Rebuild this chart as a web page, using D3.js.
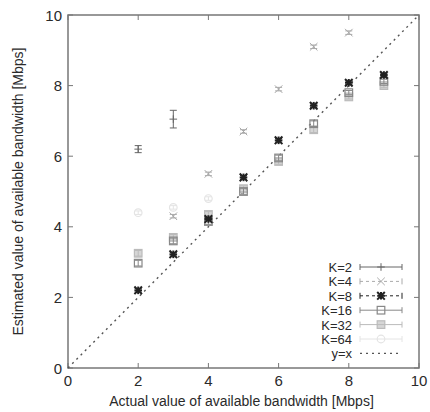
<!DOCTYPE html>
<html>
<head>
<meta charset="utf-8">
<script src="https://cdn.jsdelivr.net/npm/d3@7"></script>
<style>
  body { margin: 0; background: #fff; }
  svg { font-family: "Liberation Sans", Arial, sans-serif; }
</style>
</head>
<body>
<svg id="chart" width="430" height="412"></svg>
<script>
// series data
var xK2 = [2, 3];
var yK2 = [6.2, 7.05];
var eK2 = [0.1, 0.25];

var xK4 = [3, 4, 5, 6, 7, 8];
var yK4 = [4.3, 5.5, 6.7, 7.9, 9.1, 9.5];
var eK4 = [0.05, 0.05, 0.05, 0.05, 0.05, 0.05];

var xK8 = [2, 3, 4, 5, 6, 7, 8, 9];
var yK8 = [2.2, 3.22, 4.22, 5.4, 6.45, 7.43, 8.08, 8.3];
var eK8 = [0.05, 0.05, 0.05, 0.05, 0.05, 0.05, 0.05, 0.05];

var xK16 = [2, 3, 4, 5, 6, 7, 8, 9];
var yK16 = [2.97, 3.6, 4.15, 5.0, 5.95, 6.92, 7.8, 8.12];
var eK16 = [0.08, 0.08, 0.08, 0.08, 0.08, 0.08, 0.06, 0.06];

var xK32 = [2, 3, 4, 5, 6, 7, 8, 9];
var yK32 = [3.25, 3.7, 4.35, 5.08, 5.85, 6.75, 7.68, 8.0];
var eK32 = [0.08, 0.08, 0.08, 0.08, 0.08, 0.08, 0.06, 0.06];

var xK64 = [2, 3, 4];
var yK64 = [4.4, 4.55, 4.8];
var eK64 = [0.05, 0.05, 0.05];

var xTicks = [0, 2, 4, 6, 8, 10];
var yTicks = [0, 2, 4, 6, 8, 10];

var series = [
  { name: 'K=2', xs: xK2, ys: yK2, es: eK2, color: '#666', marker: 'plus', dash: null },
  { name: 'K=4', xs: xK4, ys: yK4, es: eK4, color: '#aaa', marker: 'cross', dash: '3,3' },
  { name: 'K=8', xs: xK8, ys: yK8, es: eK8, color: '#222', marker: 'star', dash: '3,3' },
  { name: 'K=16', xs: xK16, ys: yK16, es: eK16, color: '#888', marker: 'square', dash: null },
  { name: 'K=32', xs: xK32, ys: yK32, es: eK32, color: '#bbb', marker: 'fsquare', dash: null },
  { name: 'K=64', xs: xK64, ys: yK64, es: eK64, color: '#e4e4e4', marker: 'circle', dash: null }
];

(function () {
  var svg = d3.select('#chart');
  var m = { left: 68, right: 419, top: 15, bottom: 368 };
  var txt = '#2a2a2a';

  var x = d3.scaleLinear().domain([0, 10]).range([m.left, m.right]);
  var y = d3.scaleLinear().domain([0, 10]).range([m.bottom, m.top]);

  //-------------------------------
  // frame and inward ticks
  var frame = '#777';
  svg.append('rect')
    .attr('x', m.left).attr('y', m.top)
    .attr('width', m.right - m.left).attr('height', m.bottom - m.top)
    .attr('fill', 'none').attr('stroke', frame).attr('stroke-width', 1.5);

  var tickLen = 5;
  var axisG = svg.append('g');
  xTicks.forEach(function (t) {
    axisG.append('line').attr('x1', x(t)).attr('x2', x(t))
      .attr('y1', m.bottom).attr('y2', m.bottom - tickLen).attr('stroke', frame);
    axisG.append('line').attr('x1', x(t)).attr('x2', x(t))
      .attr('y1', m.top).attr('y2', m.top + tickLen).attr('stroke', frame);
    axisG.append('text').attr('x', x(t)).attr('y', m.bottom + 18)
      .attr('text-anchor', 'middle').attr('font-size', 15).attr('fill', txt)
      .text(t);
  });
  yTicks.forEach(function (t) {
    axisG.append('line').attr('x1', m.left).attr('x2', m.left + tickLen)
      .attr('y1', y(t)).attr('y2', y(t)).attr('stroke', frame);
    axisG.append('line').attr('x1', m.right).attr('x2', m.right - tickLen)
      .attr('y1', y(t)).attr('y2', y(t)).attr('stroke', frame);
    axisG.append('text').attr('x', m.left - 6).attr('y', y(t) + 5.5)
      .attr('text-anchor', 'end').attr('font-size', 15).attr('fill', txt)
      .text(t);
  });

  // axis titles
  svg.append('text')
    .attr('x', (m.left + m.right) / 2 - 2).attr('y', 406)
    .attr('text-anchor', 'middle').attr('font-size', 14).attr('fill', txt)
    .text('Actual value of available bandwidth [Mbps]');
  svg.append('text')
    .attr('transform', 'translate(23,' + ((m.top + m.bottom) / 2) + ') rotate(-90)')
    .attr('text-anchor', 'middle').attr('font-size', 14).attr('fill', txt)
    .text('Estimated value of available bandwidth [Mbps]');

  //-------------------------------
  // y = x reference
  svg.append('line')
    .attr('x1', x(0)).attr('y1', y(0)).attr('x2', x(10)).attr('y2', y(10))
    .attr('stroke', '#555').attr('stroke-width', 1.4)
    .attr('stroke-dasharray', '2,4');

  // marker drawing
  function drawMarker(g, type, cx, cy, color) {
    var s = 3.8;
    var w = type === 'star' ? 2 : 1;
    if (type === 'plus' || type === 'star') {
      g.append('line').attr('x1', cx - s).attr('x2', cx + s).attr('y1', cy).attr('y2', cy)
        .attr('stroke', color).attr('stroke-width', w);
      g.append('line').attr('x1', cx).attr('x2', cx).attr('y1', cy - s).attr('y2', cy + s)
        .attr('stroke', color).attr('stroke-width', w);
    }
    if (type === 'cross' || type === 'star') {
      g.append('line').attr('x1', cx - s).attr('x2', cx + s).attr('y1', cy - s).attr('y2', cy + s)
        .attr('stroke', color).attr('stroke-width', w);
      g.append('line').attr('x1', cx - s).attr('x2', cx + s).attr('y1', cy + s).attr('y2', cy - s)
        .attr('stroke', color).attr('stroke-width', w);
    }
    if (type === 'square' || type === 'fsquare') {
      g.append('rect').attr('x', cx - s).attr('y', cy - s).attr('width', 2 * s).attr('height', 2 * s)
        .attr('fill', type === 'fsquare' ? color : 'none')
        .attr('fill-opacity', 0.6)
        .attr('stroke', color).attr('stroke-width', 1.2);
    }
    if (type === 'circle') {
      g.append('circle').attr('cx', cx).attr('cy', cy).attr('r', s)
        .attr('fill', 'none').attr('stroke', color).attr('stroke-width', 1.2);
    }
  }

  function drawErr(g, cx, y0, y1, color, cap) {
    g.append('line').attr('x1', cx).attr('x2', cx).attr('y1', y0).attr('y2', y1)
      .attr('stroke', color);
    [y0, y1].forEach(function (yy) {
      g.append('line').attr('x1', cx - cap).attr('x2', cx + cap).attr('y1', yy).attr('y2', yy)
        .attr('stroke', color);
    });
  }

  // draw lighter series first so darker ones sit on top
  var order = series.slice().reverse();
  order.forEach(function (s) {
    var g = svg.append('g').attr('class', 'series');
    s.xs.forEach(function (xv, i) {
      var cx = x(xv), cy = y(s.ys[i]);
      drawErr(g, cx, y(s.ys[i] - s.es[i]), y(s.ys[i] + s.es[i]), s.color, 3.5);
      drawMarker(g, s.marker, cx, cy, s.color);
    });
  });

  //-------------------------------
  // legend
  var legX = 352, legY = 267, legStep = 14.4;
  var lx0 = 360, lx1 = 402;
  series.forEach(function (s, i) {
    var ly = legY + i * legStep;
    svg.append('text').attr('x', legX).attr('y', ly + 5)
      .attr('text-anchor', 'end').attr('font-size', 13).attr('fill', txt)
      .text(s.name);
    var g = svg.append('g');
    g.append('line').attr('x1', lx0).attr('x2', lx1).attr('y1', ly).attr('y2', ly)
      .attr('stroke', s.color).attr('stroke-dasharray', s.dash);
    [lx0, lx1].forEach(function (xx) {
      g.append('line').attr('x1', xx).attr('x2', xx).attr('y1', ly - 3).attr('y2', ly + 3)
        .attr('stroke', s.color);
    });
    drawMarker(g, s.marker, (lx0 + lx1) / 2, ly, s.color);
  });
  var lyx = legY + series.length * legStep;
  svg.append('text').attr('x', legX).attr('y', lyx + 5)
    .attr('text-anchor', 'end').attr('font-size', 13).attr('fill', txt)
    .text('y=x');
  svg.append('line').attr('x1', lx0).attr('x2', lx1).attr('y1', lyx).attr('y2', lyx)
    .attr('stroke', '#555').attr('stroke-width', 1.4).attr('stroke-dasharray', '2,4');
})();
</script>
</body>
</html>
